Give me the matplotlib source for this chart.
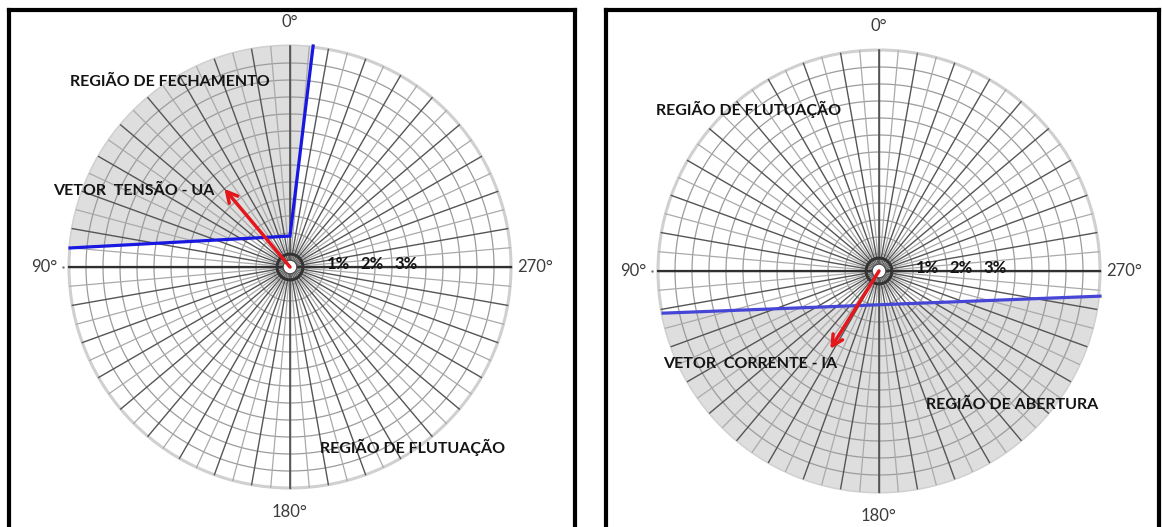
import numpy as np
import matplotlib
matplotlib.use("Agg")
import matplotlib.pyplot as plt
from matplotlib.patches import Circle, Polygon

# ---------------- data ----------------
ring_step = 0.5          # % between concentric rings
r_max = 6.5              # outer radius of the chart, %
spoke_step = 5           # degrees between radial lines
angle_ticks = [0, 90, 180, 270]
angle_labels = ['0°', '90°', '180°', '270°']
pct_values = [1, 2, 3]
pct_labels = ['1%', '2%', '3%']

# vectors (angle measured counter-clockwise from the top, magnitude in %)
ua_angle, ua_mag = 40, 3.0
ia_angle, ia_mag = 148, 2.7

# boundary lines (x, y in %)
left_boundary_x = [0.68, 0.0, -6.47]
left_boundary_y = [6.50, 0.91, 0.56]
right_boundary_x = [-6.35, 6.50]
right_boundary_y = [-1.24, -0.74]

left_texts = ['REGIÃO DE FECHAMENTO', 'VETOR  TENSÃO - UA', 'REGIÃO DE FLUTUAÇÃO']
right_texts = ['REGIÃO DE FLUTUAÇÃO', 'VETOR  CORRENTE - IA', 'REGIÃO DE ABERTURA']

# ---------------- layout ----------------
W, H = 1162, 527
S = 34.0   # pixels per 1 %
plt.rcParams['font.family'] = ['Lato', 'DejaVu Sans']
fig = plt.figure(figsize=(W / 100, H / 100), dpi=100)
fig.patch.set_facecolor('white')


def make_axes(left, right, top, cx, cy):
    ax = fig.add_axes([left / W, 0, (right - left) / W, (H - top) / H])
    ax.set_xlim((left - cx) / S, (right - cx) / S)
    ax.set_ylim((cy - H) / S, (cy - top) / S)
    ax.set_xticks([])
    ax.set_yticks([])
    for side in ['left', 'right', 'top']:
        ax.spines[side].set_linewidth(3.0)
        ax.spines[side].set_color('black')
    ax.spines['bottom'].set_visible(False)
    return ax


def polar_xy(theta_deg, r):
    t = np.deg2rad(theta_deg)
    return -r * np.sin(t), r * np.cos(t)


def draw_grid(ax):
    disk = Circle((0, 0), r_max, facecolor='white', edgecolor='#d0d0d0', lw=2.2, zorder=0)
    ax.add_patch(disk)
    rings = np.arange(ring_step, r_max + 1e-9, ring_step)
    th = np.linspace(0, 2 * np.pi, 400)
    for r in rings[:-1]:
        ax.plot(r * np.cos(th), r * np.sin(th), color='#9c9c9c', lw=0.9, zorder=2)
    angles = np.arange(0, 360, spoke_step)
    for a in angles:
        dark = (a % 10 == 0)
        x0, y0 = polar_xy(a, 0.15)
        x1, y1 = polar_xy(a, r_max)
        ax.plot([x0, x1], [y0, y1], color='#555555' if dark else '#aaaaaa',
                lw=1.0 if dark else 0.9, zorder=2)
    # main vertical and horizontal axes
    ax.plot([0, 0], [-r_max, r_max], color='#555555', lw=1.2, zorder=3)
    ax.plot([-r_max, r_max], [0, 0], color='#303030', lw=1.6, zorder=3)
    ax.plot([-r_max - 0.18], [0], marker='.', ms=1.5, color='#777777', zorder=3)
    # hub
    ax.add_patch(Circle((0, 0), 0.38, facecolor='none', edgecolor='#333333', lw=2.2, zorder=4))
    ax.add_patch(Circle((0, 0), 0.2, facecolor='white', edgecolor='#444444', lw=0.8, zorder=6))
    # angle labels
    for a, lab in zip(angle_ticks, angle_labels):
        x, y = polar_xy(a, 7.22)
        ax.text(x, y, lab, ha='center', va='center', fontsize=12,
                color='#3c3c3c', zorder=7)
    # percent labels
    for v, lab in zip(pct_values, pct_labels):
        ax.text(v + 0.42, 0.1, lab, ha='center', va='center', fontsize=12,
                fontweight='bold', color='#141414', zorder=7)
    return disk


def arrow(ax, theta, mag):
    x, y = polar_xy(theta, mag)
    ax.annotate('', xy=(x, y), xytext=(0, 0),
                arrowprops=dict(arrowstyle='->,head_length=0.75,head_width=0.4',
                                color='#e3171c', lw=2.5, shrinkA=0, shrinkB=0),
                zorder=8)


def px(cx, cy, x, y):
    return (x - cx) / S, (cy - y) / S


label_style = dict(ha='left', va='center', fontsize=11.5, fontweight='bold',
                   color='#141414', zorder=7)

# ---------------- left panel ----------------
axL = make_axes(9, 575, 10, 290, 267)
diskL = draw_grid(axL)
bx, by = left_boundary_x, left_boundary_y
ext_top = (bx[0] + (bx[0] - bx[1]) * 0.5, by[0] + (by[0] - by[1]) * 0.5)
ext_left = (bx[2] + (bx[2] - bx[1]) * 0.5, by[2] + (by[2] - by[1]) * 0.5)
polyL = Polygon([ext_top, (bx[1], by[1]), ext_left, (-12, 12)], closed=True,
                facecolor='#dedede', edgecolor='none', zorder=1)
axL.add_patch(polyL)
polyL.set_clip_path(diskL)
axL.plot(bx, by, color='#1818e0', lw=2.3, zorder=5, solid_joinstyle='miter')
arrow(axL, ua_angle, ua_mag)

axL.text(*px(290, 267, 70, 82), left_texts[0], **label_style)
axL.text(*px(290, 267, 53, 191), left_texts[1], **label_style)
axL.text(*px(290, 267, 320, 447), left_texts[2], **label_style)

# ---------------- right panel ----------------
axR = make_axes(606, 1159, 10, 879, 271)
diskR = draw_grid(axR)
rx, ry = right_boundary_x, right_boundary_y
slope = (ry[1] - ry[0]) / (rx[1] - rx[0])
polyR = Polygon([(-12, ry[0] + slope * (-12 - rx[0])), (12, ry[0] + slope * (12 - rx[0])),
                 (12, -12), (-12, -12)], closed=True,
                facecolor='#dedede', edgecolor='none', zorder=1)
axR.add_patch(polyR)
polyR.set_clip_path(diskR)
axR.plot(rx, ry, color='#4646d6', lw=2.3, zorder=5)
arrow(axR, ia_angle, ia_mag)

axR.text(*px(879, 271, 656, 109), right_texts[0], **label_style)
axR.text(*px(879, 271, 663, 364), right_texts[1], **label_style)
axR.text(*px(879, 271, 926, 405), right_texts[2], **label_style)

fig.savefig('out.png', dpi=100, facecolor='white')
